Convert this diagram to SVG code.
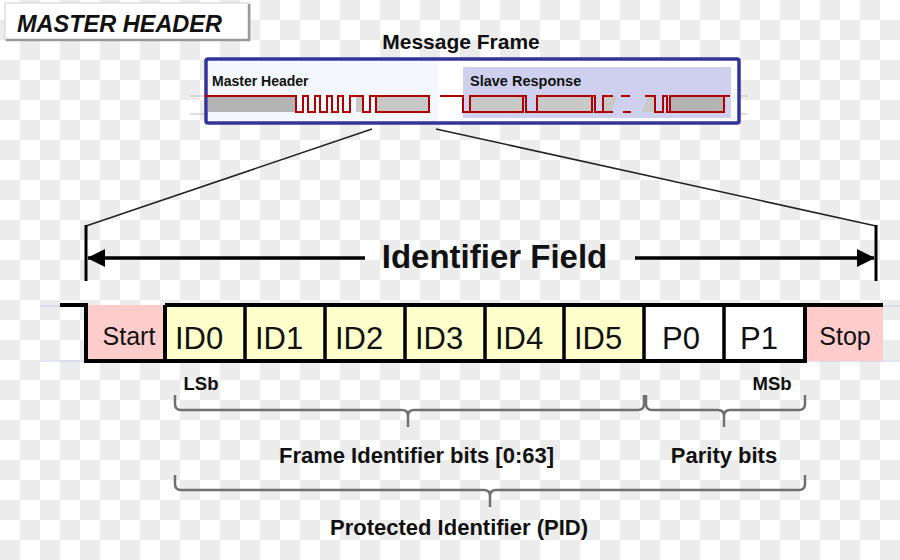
<svg xmlns="http://www.w3.org/2000/svg" width="900" height="560" viewBox="0 0 900 560">
<defs>
<pattern id="cb" width="40" height="40" patternUnits="userSpaceOnUse">
<rect width="40" height="40" fill="#ffffff"/>
<rect x="20" y="0" width="20" height="20" fill="#ececec"/>
<rect x="0" y="20" width="20" height="20" fill="#ececec"/>
</pattern>
<marker id="ah" markerWidth="18" markerHeight="18" viewBox="0 0 18 18" refX="17" refY="9" orient="auto" markerUnits="userSpaceOnUse">
<path d="M0,0 L18,9 L0,18 Z" fill="#000"/>
</marker>
</defs>
<style>
.lbl{font-family:"Liberation Sans",Arial,sans-serif;font-weight:bold;fill:#111}
.cell{font-family:"Liberation Sans",Arial,sans-serif;fill:#111;text-anchor:middle}
.sig{fill:none;stroke:#b00000;stroke-width:2}
.byte{stroke:#b00000;stroke-width:2}
.brace{fill:none;stroke:#707070;stroke-width:2.5}
.guide{stroke:#c0c0c0;stroke-width:1}
.pguide{stroke:#c8c8f2;stroke-width:1}
</style>
<rect width="900" height="560" fill="url(#cb)"/>

<g id="master-header-title">
<rect x="5" y="3" width="245" height="37" fill="#ffffff" stroke="#d0d0d0" stroke-width="1"/>
<path d="M249,4 V40 H6" fill="none" stroke="#9a9a9a" stroke-width="2.5"/>
<text x="17" y="31.5" class="lbl" font-size="23.5" font-style="italic" fill="#000">MASTER HEADER</text>
</g>

<g id="message-frame">
<text x="461" y="49" class="lbl" font-size="21" text-anchor="middle">Message Frame</text>
<line x1="190" y1="96" x2="748" y2="96" class="guide"/>
<line x1="190" y1="114" x2="748" y2="114" class="guide"/>
<rect x="206" y="59" width="533" height="64" rx="2" fill="#ffffff" stroke="#333399" stroke-width="3.5"/>
<rect x="208" y="61" width="230" height="60" fill="#f4f7fb"/>
<rect x="463" y="67" width="268" height="51" fill="#cfd0ee"/>
<text x="212" y="86" class="lbl" font-size="14" fill="#222">Master Header</text>
<text x="470" y="86" class="lbl" font-size="14.5" fill="#222">Slave Response</text>
<rect x="208" y="96" width="88" height="16" fill="#b4b4b4"/>
<rect x="356" y="96" width="7" height="16" fill="#c8c8c8"/>
<rect x="376" y="96" width="53" height="16" fill="#c8c8c8" class="byte"/>
<path class="sig" d="M205,96 H296 V112 H303 V96 H308 V112 H315 V96 H320 V112 H327 V96 H332 V112 H338 V96 H343 V112 H350 V96 H363 V112 H370 V96 H376"/>
<rect x="470" y="96" width="53" height="16" fill="#c8c8c8" class="byte"/>
<rect x="537" y="96" width="55" height="16" fill="#c8c8c8" class="byte"/>
<rect x="670" y="96" width="54" height="16" fill="#b4b4b4" class="byte"/>
<polygon points="603,96 617,96 611,112 603,112" fill="#c8c8c8"/>
<polygon points="648,96 655,96 655,112 642,112" fill="#c8c8c8"/>
<path class="sig" d="M440,96 H463 V112 H470 M523,96 H526 V112 H537 M592,96 H595 V112 H603 V96 H613 M603,112 H613 M621,96 H630 M623,112 H631 M645,96 H655 V112 H663 V96 H667 V112 H670 M724,96 H730"/>
</g>

<g id="connectors">
<line x1="372" y1="129" x2="86" y2="226" stroke="#222" stroke-width="1.5"/>
<line x1="436" y1="129" x2="876" y2="226" stroke="#222" stroke-width="1.5"/>
<line x1="86" y1="225" x2="86" y2="281" stroke="#000" stroke-width="3"/>
<line x1="876" y1="225" x2="876" y2="281" stroke="#000" stroke-width="3"/>
<line x1="365" y1="258" x2="88" y2="258" stroke="#000" stroke-width="3.5" marker-end="url(#ah)"/>
<line x1="635" y1="258" x2="874" y2="258" stroke="#000" stroke-width="3.5" marker-end="url(#ah)"/>
</g>

<g id="identifier-field-label">
<text x="494.5" y="268" class="lbl" font-size="33" text-anchor="middle" fill="#000">Identifier Field</text>
</g>

<g id="bit-row">
<line x1="40" y1="306" x2="900" y2="306" class="pguide"/>
<line x1="40" y1="361" x2="900" y2="361" class="pguide"/>
<rect x="86" y="305" width="79" height="56" fill="#ffcccc"/>
<rect x="805" y="305" width="78" height="56" fill="#ffcccc"/>
<rect x="165" y="305" width="479" height="56" fill="#ffffcc"/>
<rect x="644" y="305" width="161" height="56" fill="#ffffff"/>
<path d="M60,305 H86 V361 H165 M165,361 V305 M165,305 H883 M165,361 H805 V305" fill="none" stroke="#000" stroke-width="4"/>
<path d="M245,305 V361 M325,305 V361 M405,305 V361 M485,305 V361 M564,305 V361 M644,305 V361 M724,305 V361" stroke="#000" stroke-width="3.5"/>
</g>
<g id="cell-start"><text x="129" y="345" class="cell" font-size="25">Start</text></g>
<g id="cell-id0"><text x="199" y="349" class="cell" font-size="31">ID0</text></g>
<g id="cell-id1"><text x="279" y="349" class="cell" font-size="31">ID1</text></g>
<g id="cell-id2"><text x="359" y="349" class="cell" font-size="31">ID2</text></g>
<g id="cell-id3"><text x="439" y="349" class="cell" font-size="31">ID3</text></g>
<g id="cell-id4"><text x="519" y="349" class="cell" font-size="31">ID4</text></g>
<g id="cell-id5"><text x="598" y="349" class="cell" font-size="31">ID5</text></g>
<g id="cell-p0"><text x="681" y="349" class="cell" font-size="31">P0</text></g>
<g id="cell-p1"><text x="759" y="349" class="cell" font-size="31">P1</text></g>
<g id="cell-stop"><text x="845" y="345" class="cell" font-size="25">Stop</text></g>

<g id="bit-labels">
<text x="201" y="390" class="lbl" font-size="18.5" text-anchor="middle">LSb</text>
<text x="772" y="390" class="lbl" font-size="18.5" text-anchor="middle">MSb</text>
</g>

<g id="braces">
<path class="brace" d="M175,395 V404 Q175,410 181,410 H402 Q408,410 408,416 V427 M408,416 Q408,410 414,410 H638 Q644,410 644,404 V395"/>
<path class="brace" d="M646,395 V404 Q646,410 652,410 H718 Q724,410 724,416 V427 M724,416 Q724,410 730,410 H799 Q805,410 805,404 V395"/>
<path class="brace" d="M175,475 V484 Q175,490 181,490 H484 Q490,490 490,496 V507 M490,496 Q490,490 496,490 H799 Q805,490 805,484 V475"/>
</g>

<g id="brace-labels">
<text x="416.5" y="463" class="lbl" font-size="22" text-anchor="middle">Frame Identifier bits [0:63]</text>
<text x="724" y="463" class="lbl" font-size="22" text-anchor="middle">Parity bits</text>
<text x="459" y="535" class="lbl" font-size="22" text-anchor="middle">Protected Identifier (PID)</text>
</g>
</svg>
